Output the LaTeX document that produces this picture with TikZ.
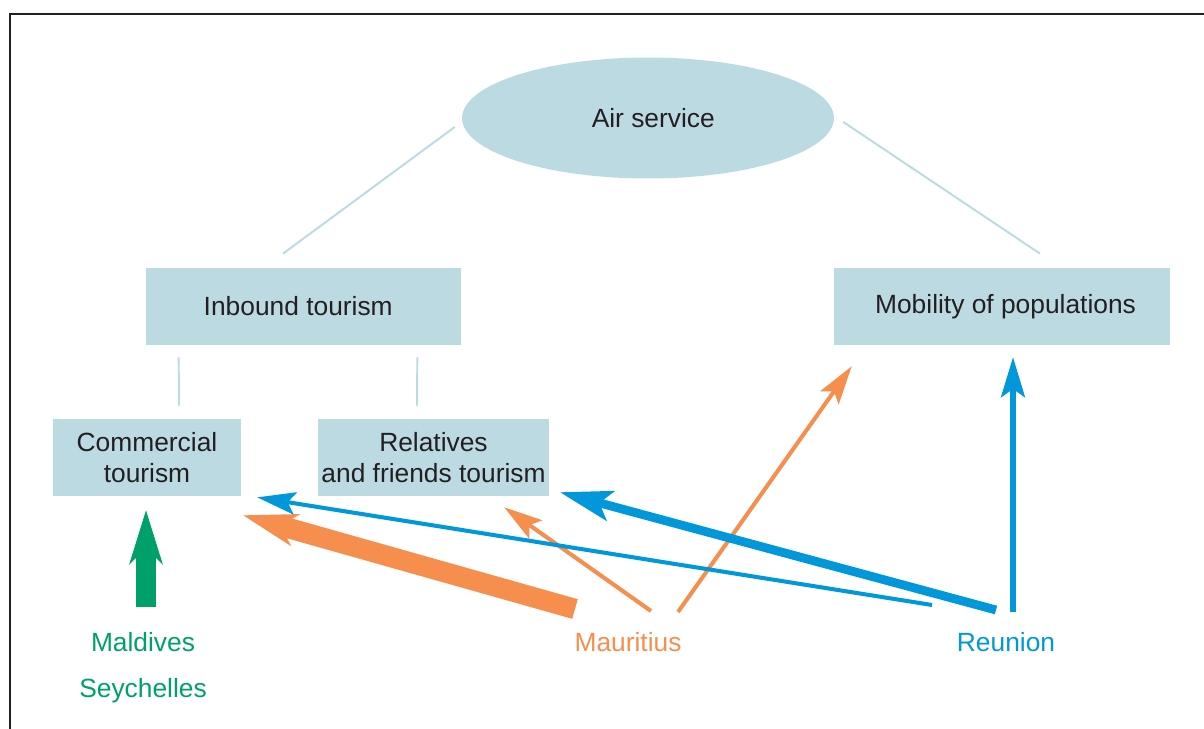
\documentclass[tikz,border=0pt]{standalone}
\usepackage{fontspec}
\setmainfont{Liberation Sans}
\usepackage{xcolor}
\usetikzlibrary{shapes.geometric, arrows.meta}
\definecolor{paleblue}{HTML}{BCDAE2}
\definecolor{inkgray}{HTML}{231F20}
\definecolor{isgreen}{HTML}{00A06A}
\definecolor{isorange}{HTML}{F68E4E}
\definecolor{isblue}{HTML}{0098DA}
\tikzset{
    hub/.style={ellipse, minimum width=7.44cm, minimum height=2.42cm, inner sep=0pt, fill=paleblue, text=inkgray, font=\fontsize{15}{17.6}\selectfont},
    theme/.style={rectangle, minimum height=1.54cm, inner sep=0pt, fill=paleblue, text=inkgray, align=center, font=\fontsize{15}{17.6}\selectfont},
    place/.style={align=center, font=\fontsize{15}{26}\selectfont},
    link/.style={paleblue, line width=1.1pt},
    thinflow/.style={line width=2.3pt, -{Stealth[length=22pt, width=13pt, inset=4.5pt, line width=0pt]}},
    midflow/.style={line width=3.4pt, -{Stealth[length=23pt, width=14pt, inset=5pt, line width=0pt]}},
    wideflow/.style={line width=5pt, -{Stealth[length=30pt, width=18pt, inset=7pt, line width=0pt]}},
    fatflow/.style={line width=11.6pt, -{Stealth[length=31pt, width=19pt, inset=9pt, line width=0pt]}}
}
\begin{document}
\begin{tikzpicture}[x=0.02cm, y=-0.02cm]
        \useasboundingbox (0,0) rectangle (1204,729);
        % Frame
        \draw[inkgray, line width=1.5pt] (1210,14) -| (10,735);

        % Nodes
        \node[hub] (air) at (648,118) {\hspace*{6pt}Air service};
        \node[theme, minimum width=6.3cm] (inbound) at (303.5,306.5) {Inbound tourism\hspace*{6pt}};
        \node[theme, minimum width=6.72cm] (mobility) at (1002,306.5) {\hspace*{4pt}Mobility of populations};
        \node[theme, minimum width=3.76cm] (commercial) at (147,457.5) {Commercial\\tourism};
        \node[theme, minimum width=4.62cm] (relatives) at (433.5,457.5) {Relatives\\and friends tourism};
        \node[place, text=isgreen] (maldives) at (143,668) {Maldives\\Seychelles};
        \node[place, text=isorange] (mauritius) at (628,642) {Mauritius};
        \node[place, text=isblue] (reunion) at (1006,642) {Reunion};

        % Links
        \draw[link] ([shift={(-7,9)}]air.west) -- ([shift={(-20.5,-14)}]inbound.north);
        \draw[link] ([shift={(9,4)}]air.east) -- ([shift={(38,-14)}]mobility.north);
        \draw[link] ([shift={(33,12)}]inbound.south west) -- ([shift={(32,-13)}]commercial.north);
        \draw[link] ([shift={(-44,12)}]inbound.south east) -- ([shift={(-16.5,-13)}]relatives.north);

        % Arrows
        \draw[isgreen, line width=11.9pt, -{Stealth[length=31pt, width=19.3pt, inset=9.6pt, line width=0pt]}] ([shift={(3,-61)}]maldives.center) -- ([shift={(-1,14)}]commercial.south);
        \draw[isorange, fatflow] ([shift={(-53,-33)}]mauritius.center) -- ([shift={(2,19)}]commercial.south east);
        \draw[isorange, thinflow] ([shift={(23,-31)}]mauritius.center) -- ([shift={(-45,11)}]relatives.south east);
        \draw[isorange, thinflow] ([shift={(50,-30)}]mauritius.center) -- ([shift={(18,21)}]mobility.south west);
        \draw[isblue, thinflow] ([shift={(-74,-37)}]reunion.center) -- ([shift={(16,1)}]commercial.south east);
        \draw[isblue, wideflow] ([shift={(-10,-32)}]reunion.center) -- ([shift={(11,-4)}]relatives.south east);
        \draw[isblue, midflow] ([shift={(7,-30)}]reunion.center) -- ([shift={(11,12)}]mobility.south);
\end{tikzpicture}
\end{document}
